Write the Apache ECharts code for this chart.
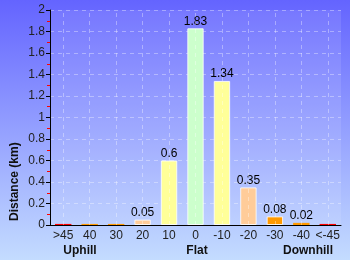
<!DOCTYPE html>
<html><head><meta charset="utf-8">
<script src="https://cdn.jsdelivr.net/npm/echarts@6/dist/echarts.min.js"></script>
<style>html,body{margin:0;padding:0;}#c{width:350px;height:260px;}</style>
</head><body><div id="c"></div>
<script>
var categories = ['>45','40','30','20','10','0','-10','-20','-30','-40','<-45'];
var distances = [0.01,0.01,0.01,0.05,0.6,1.83,1.34,0.35,0.08,0.02,0.01];
var barColors = ['#ff0000','#ff9900','#ff9900','#ffcc99','#ffff99','#ccffcc','#ffff99','#ffcc99','#ff9900','#ff9900','#ff0000'];
var showLabel = [false,false,false,true,true,true,true,true,true,true,false];
var yTicks = {min:0, max:2, interval:0.2};
var groupLabels = ['Uphill','Flat','Downhill'];

var chart = echarts.init(document.getElementById('c'), null, {renderer:'canvas'});
var fontFam = '"Liberation Sans", Arial, sans-serif';
var gridLine = {color:'rgba(255,255,255,0.35)',type:[4,4],width:1};
function groupText(x, t){
  return {type:'text',x:x,y:251,style:{text:t,fontSize:12,fontWeight:'bold',fill:'#111',fontFamily:fontFam,align:'center',verticalAlign:'middle'}};
}
chart.setOption({
  animation:false,
  backgroundColor:{type:'linear',x:0,y:0,x2:0,y2:1,colorStops:[{offset:0,color:'#6464ff'},{offset:1,color:'#c4dcff'}]},
  grid:{left:50,top:10,right:9,bottom:35,show:true,borderWidth:0,backgroundColor:'rgba(255,255,255,0.1)'},
  xAxis:{type:'category',data:categories,
    axisLine:{lineStyle:{color:'#000',width:1}},
    axisTick:{show:false},
    axisLabel:{interval:0,color:'#222',fontSize:12,fontFamily:fontFam,margin:5},
    splitLine:{show:false}
  },
  yAxis:{type:'value',min:yTicks.min,max:yTicks.max,interval:yTicks.interval,
    axisLine:{show:true,lineStyle:{color:'#000',width:1}},
    axisTick:{show:true,length:4,lineStyle:{color:'#000'}},
    minorTick:{show:true,splitNumber:2,length:3,lineStyle:{color:'#ff0000',width:1}},
    axisLabel:{color:'#222',fontSize:12,fontFamily:fontFam,margin:5},
    splitLine:{show:true,lineStyle:gridLine}
  },
  graphic:[
    {type:'text',x:9,y:221,rotation:Math.PI/2,style:{text:'Distance (km)',fontSize:12,fontWeight:'bold',fill:'#111',fontFamily:fontFam}},
    groupText(80, groupLabels[0]),
    groupText(197, groupLabels[1]),
    groupText(308, groupLabels[2])
  ],
  series:[
    {type:'line',data:[],z:1,silent:true,
      markLine:{silent:true,symbol:['none','none'],label:{show:false},lineStyle:gridLine,
        data:categories.map(function(c){return {xAxis:c};})}},
    {type:'bar',barWidth:'62%',z:3,
    data:distances.map(function(v,i){return {value:v,itemStyle:{color:barColors[i],borderWidth:v>=0.05?1:0},label:{show:showLabel[i]}};}),
    itemStyle:{borderColor:'rgba(255,255,255,0.8)',borderWidth:1},
    label:{position:'top',distance:1,color:'#000',fontSize:12,fontFamily:fontFam}
  }]
});
</script></body></html>
